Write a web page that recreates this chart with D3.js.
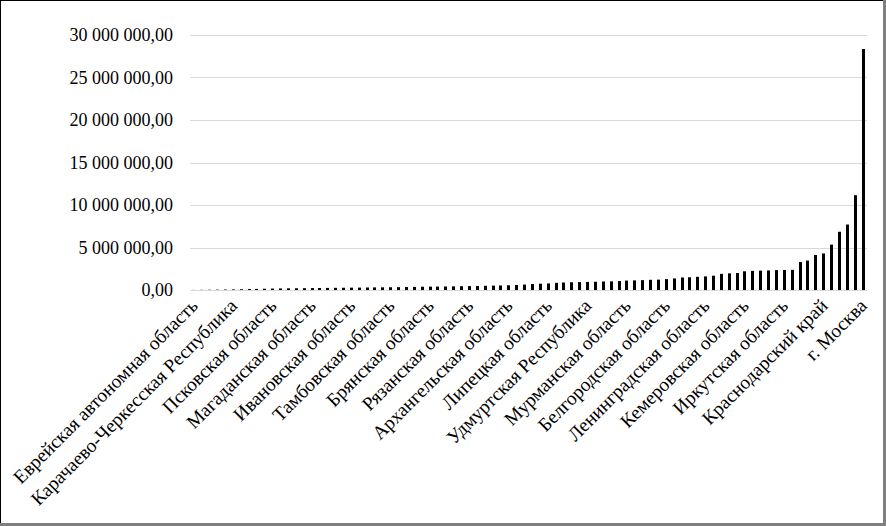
<!DOCTYPE html>
<html>
<head>
<meta charset="utf-8">
<script src="https://cdn.jsdelivr.net/npm/d3@7"></script>
<style>
  html, body { margin: 0; padding: 0; background: #fff; }
  svg { display: block; }
  text { font-family: "Liberation Serif", "Times New Roman", serif; fill: #000; }
</style>
</head>
<body>
<svg id="chart" width="886" height="526"></svg>
<script>
// ---- data ----
const categories = [
  "Еврейская автономная область", "Республика Алтай", "Ненецкий автономный округ", "Чукотский автономный округ", "Республика Ингушетия",
  "Карачаево-Черкесская Республика", "Республика Калмыкия", "Республика Тыва", "г. Севастополь", "Республика Адыгея",
  "Псковская область", "Костромская область", "Республика Марий Эл", "Курганская область", "Республика Северная Осетия – Алания",
  "Магаданская область", "Орловская область", "Республика Хакасия", "Кабардино-Балкарская Республика", "Камчатский край",
  "Ивановская область", "Смоленская область", "Новгородская область", "Кировская область", "Республика Мордовия",
  "Тамбовская область", "Чеченская Республика", "Республика Карелия", "Забайкальский край", "Пензенская область",
  "Брянская область", "Курская область", "Амурская область", "Калужская область", "Ульяновская область",
  "Рязанская область", "Республика Бурятия", "Астраханская область", "Калининградская область", "Тверская область",
  "Архангельская область", "Владимирская область", "Чувашская Республика", "Вологодская область", "Ярославская область",
  "Липецкая область", "Тульская область", "Республика Дагестан", "Томская область", "Приморский край",
  "Удмуртская Республика", "Ставропольский край", "Омская область", "Хабаровский край", "Оренбургская область",
  "Мурманская область", "Саратовская область", "Алтайский край", "Республика Коми", "Волгоградская область",
  "Белгородская область", "Воронежская область", "Новосибирская область", "Республика Крым", "Нижегородская область",
  "Ленинградская область", "Ростовская область", "Пермский край", "Челябинская область", "Самарская область",
  "Кемеровская область", "Республика Башкортостан", "Сахалинская область", "Красноярский край", "Республика Саха (Якутия)",
  "Иркутская область", "Свердловская область", "Тюменская область (без АО)", "Республика Татарстан", "Ямало-Ненецкий автономный округ",
  "Краснодарский край", "Ханты-Мансийский автономный округ – Югра", "Московская область", "Тюменская область", "г. Санкт-Петербург",
  "г. Москва"
];
const values = [
  10000, 20000, 30000, 40000, 55000,
  70000, 90000, 110000, 130000, 150000,
  170000, 185000, 195000, 205000, 215000,
  225000, 235000, 245000, 255000, 265000,
  275000, 285000, 295000, 305000, 315000,
  325000, 335000, 350000, 365000, 380000,
  395000, 405000, 415000, 430000, 445000,
  460000, 475000, 495000, 515000, 535000,
  555000, 590000, 640000, 700000, 740000,
  770000, 840000, 880000, 910000, 930000,
  950000, 970000, 1000000, 1020000, 1050000,
  1110000, 1130000, 1160000, 1200000, 1220000,
  1280000, 1360000, 1470000, 1500000, 1550000,
  1600000, 1680000, 1900000, 1960000, 2000000,
  2200000, 2250000, 2280000, 2300000, 2340000,
  2360000, 2370000, 3300000, 3460000, 4120000,
  4300000, 5340000, 6850000, 7700000, 11150000,
  28350000
];
const yTicks = [0, 5000000, 10000000, 15000000, 20000000, 25000000, 30000000];
const labelEvery = 5;

// ---- layout ----
const W = 886, H = 526;
const plot = { left: 190, right: 867, top: 35, bottom: 290 };
const svg = d3.select("#chart");

// frame
svg.append("rect").attr("x", 0).attr("y", 0).attr("width", W).attr("height", H).attr("fill", "#fff");
svg.append("line").attr("x1", 0).attr("x2", W).attr("y1", 0.5).attr("y2", 0.5).attr("stroke", "#000");
svg.append("line").attr("x1", 0.5).attr("x2", 0.5).attr("y1", 0).attr("y2", H).attr("stroke", "#000");
svg.append("line").attr("x1", W - 1.5).attr("x2", W - 1.5).attr("y1", 0).attr("y2", H).attr("stroke", "#808080").attr("stroke-width", 3);
svg.append("line").attr("x1", 0).attr("x2", W).attr("y1", H - 1.5).attr("y2", H - 1.5).attr("stroke", "#808080").attr("stroke-width", 3);

const x = d3.scaleBand().domain(categories).range([plot.left, plot.right]).paddingInner(0.62).paddingOuter(0.31);
const y = d3.scaleLinear().domain([0, 30000000]).range([plot.bottom, plot.top]);

const loc = d3.formatLocale({ decimal: ",", thousands: "\u00a0", grouping: [3], currency: ["", ""] });
const fmt = loc.format(",.2f");

// gridlines
svg.append("g").selectAll("line").data(yTicks).join("line")
  .attr("x1", plot.left).attr("x2", plot.right)
  .attr("y1", d => Math.round(y(d)) + 0.5).attr("y2", d => Math.round(y(d)) + 0.5)
  .attr("stroke", "#d9d9d9").attr("stroke-width", 1);

// y axis
const yAxis = svg.append("g").attr("transform", `translate(${plot.left - 17},0)`)
  .call(d3.axisLeft(y).tickValues(yTicks).tickFormat(fmt).tickSize(0).tickPadding(0));
yAxis.select(".domain").remove();
yAxis.selectAll("text").attr("font-size", "18px").attr("font-family", "Liberation Serif, serif").attr("fill", "#000");

// bars
svg.append("g").selectAll("rect").data(categories).join("rect")
  .attr("x", d => Math.round(x(d)))
  .attr("width", 3)
  .attr("y", (d, i) => y(values[i]))
  .attr("height", (d, i) => y(0) - y(values[i]))
  .attr("fill", "#000");

// x axis
const xAxis = svg.append("g").attr("transform", `translate(0,${plot.bottom})`)
  .call(d3.axisBottom(x).tickValues(categories.filter((d, i) => i % labelEvery === 0)).tickSize(0));
xAxis.select(".domain").remove();
xAxis.selectAll("text")
  .attr("font-size", "19.3px").attr("font-family", "Liberation Serif, serif").attr("fill", "#000")
  .attr("text-anchor", "end")
  .attr("dy", 0)
  .attr("y", 0)
  .attr("transform", "translate(5,17) rotate(-45)");
</script>
</body>
</html>
